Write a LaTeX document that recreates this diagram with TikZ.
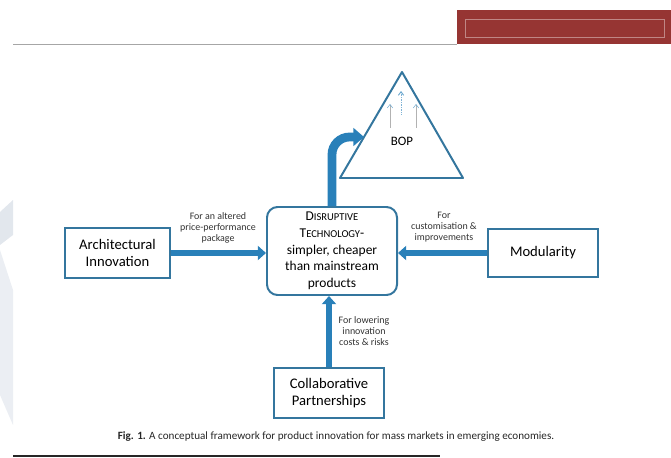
\documentclass[tikz,border=0pt]{standalone}
\usepackage{fontspec}
\setmainfont{Carlito}
\usetikzlibrary{arrows.meta}

\definecolor{boxblue}{RGB}{52,118,158}
\definecolor{arrowblue}{RGB}{41,128,185}
\definecolor{headred}{RGB}{150,53,51}
\definecolor{markgrey}{RGB}{226,231,237}

\newcommand\smcap[2]{#1{\fontsize{9}{10}\selectfont #2}}

\tikzset{
  blockbox/.style={draw=boxblue, line width=1.7pt, fill=white, align=center,
    inner sep=0pt, font=\fontsize{12.5}{15}\selectfont},
  fatarrow/.style={draw=arrowblue, line width=5.8pt, -{Triangle[length=7pt,width=12pt]}},
  smalllabel/.style={align=center, text=black!80, font=\fontsize{8.5}{9.5}\selectfont},
  riseline/.style={draw=black!30, line width=0.4pt, -{Straight Barb[length=3pt,width=4.5pt,color=arrowblue!70]}},
}

\begin{document}
\begin{tikzpicture}[x=0.03cm, y=-0.03cm]
    \useasboundingbox (0,0) rectangle (671,458);
    % page furniture
    \fill[markgrey] (0,212) -- (13,200) -- (13,235) -- (0,245) -- cycle;
    \fill[markgrey!70] (0,250) -- (13,290) -- (13,425) -- (0,395) -- cycle;
    \draw[black!35, line width=0.8pt] (13,44) -- (457,44);
    \fill[headred] (457,10) rectangle (671,44);
    \draw[headred!60!white, line width=0.5pt] (465,19) rectangle (664,37);
    \draw[black!85, line width=1pt] (13,456) -- (440,456);

    % BOP triangle
    \coordinate (apex) at (402,72);
    \coordinate (baseL) at (340,178);
    \coordinate (baseR) at (463,178);
    \draw[boxblue, line width=1.7pt, line join=round] (apex) -- (baseL) -- (baseR) -- cycle;
    \node[font=\fontsize{11}{13}\selectfont] (bop) at (402,141) {BOP};
    \coordinate (r1a) at (390,128); \coordinate (r1b) at (390,104);
    \coordinate (r2a) at (401,114); \coordinate (r2b) at (401,91);
    \coordinate (r3a) at (416,128); \coordinate (r3b) at (416,104);
    \draw[riseline] (r1a) -- (r1b);
    \draw[riseline, draw=arrowblue!60, densely dotted, line width=0.8pt] (r2a) -- (r2b);
    \draw[riseline] (r3a) -- (r3b);

    % blocks
    \node[blockbox, rounded corners=9pt, minimum width=3.9cm, minimum height=2.64cm,
      font=\fontsize{11.5}{14.2}\selectfont] (dt) at (332,251)
      {\smcap{D}{ISRUPTIVE}\\\smcap{T}{ECHNOLOGY}-\\simpler, cheaper\\than mainstream\\products};
    \node[blockbox, minimum width=3.15cm, minimum height=1.5cm] (arch) at (117.5,253)
      {Architectural\\Innovation};
    \node[blockbox, minimum width=3.3cm, minimum height=1.44cm] (mod) at (543,253) {Modularity};
    \node[blockbox, minimum width=3.3cm, minimum height=1.5cm] (collab) at (329,393)
      {Collaborative\\Partnerships};

    % connectors
    \draw[fatarrow] (arch.east) -- (arch.east -| dt.west);
    \draw[fatarrow] (mod.west) -- (mod.west -| dt.east);
    \draw[fatarrow] (collab.north) -- (collab.north |- dt.south);
    \coordinate (bopin) at (364,137);
    \draw[fatarrow, line width=7.5pt, rounded corners=15pt, -{Triangle[length=9pt,width=15pt]}]
      (dt.north) |- (bopin);

    \node[smalllabel] (lblarch) at (218,228) {For an altered\\price-performance\\package};
    \node[smalllabel] (lblmod) at (444,227) {For\\customisation \&\\improvements};
    \node[smalllabel] (lblcol) at (364,331) {For lowering\\innovation\\costs \& risks};

    \node[font=\fontsize{9.5}{11}\selectfont, text=black!85] (caption) at (336,437)
      {\textbf{Fig. 1.} A conceptual framework for product innovation for mass markets in emerging economies.};
\end{tikzpicture}
\end{document}
